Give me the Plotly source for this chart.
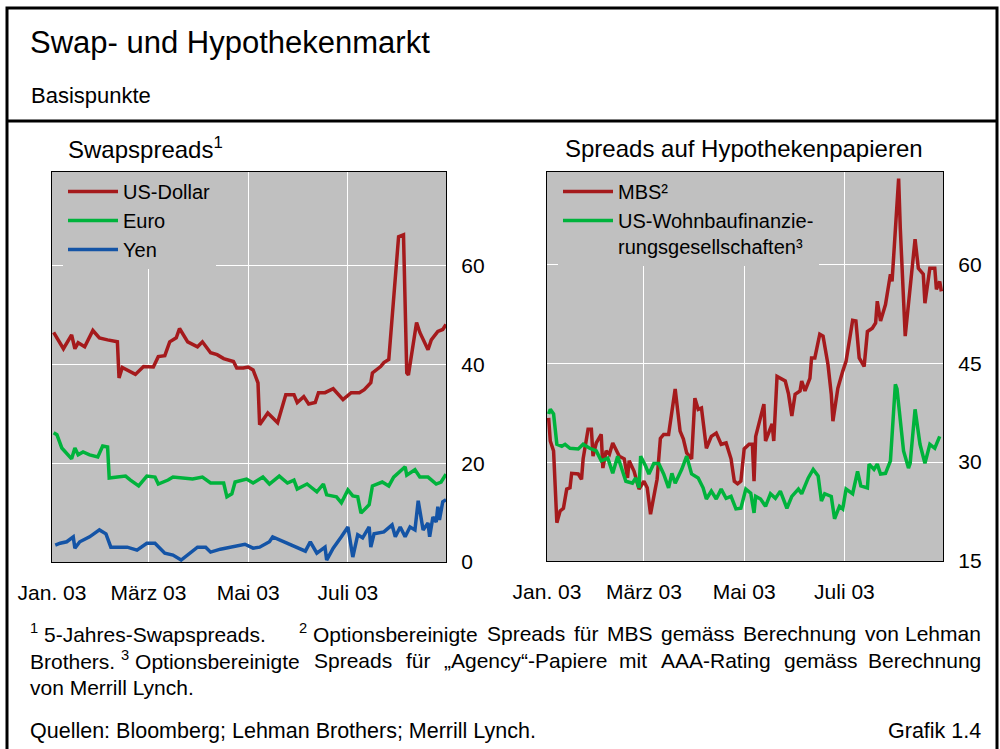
import plotly.graph_objects as go

# ---------------- data ----------------
usd_dates = ["2003-01-02","2003-01-08","2003-01-13","2003-01-15","2003-01-17","2003-01-21","2003-01-26","2003-01-30",
             "2003-02-04","2003-02-10","2003-02-11","2003-02-13","2003-02-21","2003-02-26","2003-03-04","2003-03-07",
             "2003-03-11","2003-03-14","2003-03-18","2003-03-20","2003-03-25","2003-03-31","2003-04-03","2003-04-08",
             "2003-04-12","2003-04-16","2003-04-22","2003-04-24","2003-04-28","2003-05-01","2003-05-04","2003-05-07",
             "2003-05-08","2003-05-13","2003-05-19","2003-05-24","2003-05-29","2003-05-31","2003-06-04","2003-06-07",
             "2003-06-11","2003-06-13","2003-06-17","2003-06-22","2003-06-28","2003-07-03","2003-07-08","2003-07-11",
             "2003-07-15","2003-07-16","2003-07-21","2003-07-23","2003-07-26","2003-07-28","2003-07-30","2003-08-01",
             "2003-08-04","2003-08-05","2003-08-06","2003-08-07","2003-08-10","2003-08-12","2003-08-14","2003-08-19",
             "2003-08-21","2003-08-25","2003-08-28","2003-08-30"]
usd_values = [46.5,43.2,46.0,43.2,44.4,43.6,46.9,45.4,
              45.0,44.6,37.3,39.4,38.0,39.6,39.5,41.6,
              41.8,44.6,45.4,47.3,44.6,43.6,44.6,42.4,
              42.0,41.2,40.6,39.3,39.3,39.5,38.9,36.3,
              27.8,30.2,28.2,33.9,33.9,32.3,33.5,32.0,
              32.3,34.3,34.3,35.1,32.9,34.3,34.3,34.9,
              36.3,38.3,39.6,40.4,41.0,49.7,58.6,65.9,
              66.3,49.7,38.3,37.9,44.0,48.5,46.5,43.0,
              45.0,46.7,47.1,48.1]

eur_dates = ["2003-01-02","2003-01-04","2003-01-07","2003-01-13","2003-01-15","2003-01-17","2003-01-20","2003-01-24",
             "2003-01-29","2003-02-01","2003-02-04","2003-02-05","2003-02-10","2003-02-15","2003-02-18","2003-02-23",
             "2003-02-28","2003-03-05","2003-03-07","2003-03-13","2003-03-16","2003-03-22","2003-03-28","2003-04-03",
             "2003-04-08","2003-04-16","2003-04-18","2003-04-21","2003-04-23","2003-04-30","2003-05-04","2003-05-10",
             "2003-05-14","2003-05-20","2003-05-25","2003-05-29","2003-05-31","2003-06-06","2003-06-12","2003-06-16",
             "2003-06-18","2003-06-24","2003-06-27","2003-07-01","2003-07-04","2003-07-07","2003-07-09","2003-07-14",
             "2003-07-16","2003-07-22","2003-07-26","2003-07-29","2003-08-05","2003-08-06","2003-08-11","2003-08-14",
             "2003-08-19","2003-08-24","2003-08-27","2003-08-30"]
eur_values = [26.2,25.8,23.1,20.9,23.1,21.7,22.3,21.7,
              21.3,23.5,23.3,17.0,17.2,17.4,16.6,15.4,
              17.4,17.2,15.8,16.6,17.2,17.0,16.8,17.2,
              16.0,16.0,13.2,13.8,16.2,16.8,16.0,17.2,
              15.8,17.4,16.0,16.6,14.8,15.8,14.2,15.8,
              13.6,13.2,12.0,14.6,13.4,13.2,9.9,11.6,
              15.4,16.2,15.4,17.2,19.3,17.6,18.7,17.2,
              17.2,15.8,16.2,17.8]

jpy_dates = ["2003-01-03","2003-01-06","2003-01-10","2003-01-14","2003-01-15","2003-01-18","2003-01-24","2003-01-30",
             "2003-02-03","2003-02-06","2003-02-16","2003-02-22","2003-02-28","2003-03-05","2003-03-11","2003-03-16",
             "2003-03-21","2003-03-26","2003-03-31","2003-04-05","2003-04-08","2003-04-14","2003-04-21","2003-04-29",
             "2003-05-04","2003-05-08","2003-05-14","2003-05-16","2003-06-05","2003-06-08","2003-06-12","2003-06-17",
             "2003-06-18","2003-06-22","2003-06-27","2003-07-01","2003-07-04","2003-07-07","2003-07-10","2003-07-14",
             "2003-07-15","2003-07-17","2003-07-23","2003-07-28","2003-07-30","2003-08-02","2003-08-05","2003-08-08",
             "2003-08-11","2003-08-13","2003-08-16","2003-08-19","2003-08-20","2003-08-22","2003-08-24","2003-08-25",
             "2003-08-26","2003-08-28","2003-08-30"]
jpy_values = [3.4,3.8,4.1,5.1,2.8,4.1,5.1,6.5,
              5.7,3.0,3.0,2.4,3.8,3.8,1.8,1.4,
              0.4,1.6,3.0,3.0,2.0,2.6,3.0,3.6,
              2.8,3.0,4.1,5.1,2.2,4.1,1.8,3.0,
              0.4,2.8,5.1,7.1,1.0,5.5,4.9,7.1,
              3.0,5.7,6.1,7.5,5.1,7.1,5.1,7.1,
              6.5,12.4,6.5,7.9,5.1,9.1,8.1,11.2,
              8.5,12.2,12.6]

mbs_dates = ["2003-01-02","2003-01-03","2003-01-05","2003-01-07","2003-01-09","2003-01-11","2003-01-13","2003-01-15",
             "2003-01-16","2003-01-20","2003-01-22","2003-01-23","2003-01-26","2003-01-28","2003-01-29","2003-01-31",
             "2003-02-03","2003-02-04","2003-02-06","2003-02-08","2003-02-10","2003-02-14","2003-02-17","2003-02-19",
             "2003-02-20","2003-02-23","2003-02-26","2003-03-01","2003-03-03","2003-03-05","2003-03-08","2003-03-09",
             "2003-03-11","2003-03-13","2003-03-16","2003-03-20","2003-03-23","2003-03-25","2003-03-27","2003-03-30",
             "2003-04-01","2003-04-03","2003-04-05","2003-04-08","2003-04-11","2003-04-14","2003-04-17","2003-04-20",
             "2003-04-23","2003-04-25","2003-04-27","2003-04-29","2003-05-01","2003-05-04","2003-05-06","2003-05-07",
             "2003-05-08","2003-05-10","2003-05-13","2003-05-14","2003-05-18","2003-05-19","2003-05-21","2003-05-26",
             "2003-05-28","2003-05-30","2003-06-01","2003-06-04","2003-06-05","2003-06-07","2003-06-10","2003-06-11",
             "2003-06-13","2003-06-16","2003-06-18","2003-06-21","2003-06-23","2003-06-24","2003-06-27","2003-06-30",
             "2003-07-02","2003-07-06","2003-07-08","2003-07-10","2003-07-13","2003-07-15","2003-07-18","2003-07-20",
             "2003-07-21","2003-07-23","2003-07-26","2003-07-29","2003-07-30","2003-08-03","2003-08-04","2003-08-07",
             "2003-08-13","2003-08-15","2003-08-18","2003-08-19","2003-08-22","2003-08-25","2003-08-26","2003-08-28",
             "2003-08-29"]
mbs_values = [36.7,33.2,31.7,20.8,22.6,23.0,25.9,26.1,
              28.3,28.2,27.4,30.5,35.0,35.0,30.9,32.9,
              34.2,29.1,31.7,31.2,32.9,30.9,30.5,27.6,
              30.2,28.6,25.9,27.1,26.1,22.1,26.1,27.4,
              33.6,34.2,34.2,41.1,34.7,33.5,31.4,30.5,
              39.7,38.0,38.2,32.1,33.9,34.4,32.7,32.9,
              30.5,27.1,26.7,27.1,32.0,32.7,32.7,27.1,
              33.9,35.8,38.8,33.2,35.8,33.2,43.0,42.3,
              40.3,37.0,40.3,40.8,42.3,40.8,42.7,45.8,
              45.8,49.4,49.1,44.8,40.3,36.2,41.2,43.8,
              45.3,51.5,51.4,45.8,44.5,49.8,50.3,51.1,
              54.4,51.4,53.9,58.5,57.4,73.0,65.5,49.1,
              63.8,59.4,58.5,54.1,59.4,59.4,56.2,57.4,
              55.9]

agency_dates = ["2003-01-02","2003-01-03","2003-01-05","2003-01-07","2003-01-10","2003-01-12","2003-01-15","2003-01-20",
                "2003-01-23","2003-01-27","2003-01-31","2003-02-03","2003-02-07","2003-02-10","2003-02-13","2003-02-18",
                "2003-02-22","2003-02-24","2003-02-26","2003-02-27","2003-03-02","2003-03-04","2003-03-07","2003-03-10",
                "2003-03-13","2003-03-16","2003-03-18","2003-03-20","2003-03-24","2003-03-27","2003-03-30","2003-04-03",
                "2003-04-06","2003-04-08","2003-04-11","2003-04-14","2003-04-17","2003-04-20","2003-04-23","2003-04-26",
                "2003-04-29","2003-05-02","2003-05-05","2003-05-07","2003-05-08","2003-05-11","2003-05-14","2003-05-17",
                "2003-05-20","2003-05-23","2003-05-27","2003-05-30","2003-06-03","2003-06-05","2003-06-09","2003-06-12",
                "2003-06-15","2003-06-17","2003-06-19","2003-06-23","2003-06-25","2003-06-28","2003-06-30","2003-07-02",
                "2003-07-06","2003-07-09","2003-07-11","2003-07-15","2003-07-16","2003-07-19","2003-07-21","2003-07-23",
                "2003-07-26","2003-07-29","2003-08-01","2003-08-02","2003-08-06","2003-08-09","2003-08-10","2003-08-13",
                "2003-08-16","2003-08-19","2003-08-22","2003-08-25","2003-08-28"]
agency_values = [37.3,38.0,37.3,32.7,32.4,32.7,32.1,32.0,
                 32.7,32.1,31.7,30.2,30.6,28.3,30.9,27.1,
                 26.8,27.6,26.1,30.9,29.4,28.2,29.8,29.8,
                 28.2,26.1,28.3,26.8,28.9,30.9,28.2,27.6,
                 26.1,24.4,25.6,24.4,25.9,24.5,24.8,22.9,
                 23.0,25.9,25.3,22.3,24.8,24.4,23.3,25.2,
                 24.5,25.6,23.0,24.8,25.9,25.2,27.6,28.9,
                 27.9,24.1,25.2,24.8,21.4,23.3,22.9,25.9,
                 25.2,28.6,26.4,26.1,29.7,28.9,29.7,28.2,
                 28.3,30.2,41.8,41.1,31.7,29.1,29.8,38.0,
                 32.7,29.8,32.7,32.1,33.9]

month_ticks = ["2003-01-01", "2003-03-01", "2003-05-01", "2003-07-01"]
month_labels = ["Jan. 03", "März 03", "Mai 03", "Juli 03"]
left_yticks = [0, 20, 40, 60]
right_yticks = [15, 30, 45, 60]

RED = "#A51A1C"
GREEN = "#00B33C"
BLUE = "#1454A6"
BG = "#C0C0C0"
FONT = "Liberation Sans"
LW = 3.5

W, H = 1000, 749
def px(x): return x / W
def py(y): return 1 - y / H

fig = go.Figure()
fig.add_trace(go.Scatter(x=usd_dates, y=usd_values, name="US-Dollar", mode="lines",
                         line=dict(color=RED, width=LW), xaxis="x", yaxis="y", legend="legend"))
fig.add_trace(go.Scatter(x=eur_dates, y=eur_values, name="Euro", mode="lines",
                         line=dict(color=GREEN, width=LW), xaxis="x", yaxis="y", legend="legend"))
fig.add_trace(go.Scatter(x=jpy_dates, y=jpy_values, name="Yen", mode="lines",
                         line=dict(color=BLUE, width=LW), xaxis="x", yaxis="y", legend="legend"))
fig.add_trace(go.Scatter(x=mbs_dates, y=mbs_values, name="MBS²", mode="lines",
                         line=dict(color=RED, width=LW), xaxis="x2", yaxis="y2", legend="legend2"))
fig.add_trace(go.Scatter(x=agency_dates, y=agency_values, name="US-Wohnbaufinanzie-<br>rungsgesellschaften³",
                         mode="lines", line=dict(color=GREEN, width=LW), xaxis="x2", yaxis="y2", legend="legend2"))

xcommon = dict(type="date", range=["2003-01-01", "2003-08-30"], tickvals=month_ticks, ticktext=month_labels,
               showgrid=True, gridcolor="white", gridwidth=1.3, showline=True, linecolor="black", linewidth=1.2,
               mirror=True, ticks="", tickfont=dict(family=FONT, size=21, color="black"),
               ticklabelstandoff=12, zeroline=False, automargin=False)
ycommon = dict(side="right", showgrid=True, gridcolor="white", gridwidth=1.3, showline=True, linecolor="black",
               linewidth=1.2, mirror=True, ticks="", tickfont=dict(family=FONT, size=21, color="black"),
               ticklabelstandoff=10, zeroline=False, automargin=False)

legcommon = dict(xanchor="left", yanchor="top", bgcolor=BG, borderwidth=0,
                 font=dict(family=FONT, size=20, color="black"), itemwidth=50, tracegroupgap=0,
                 valign="top", itemclick=False)

fig.update_layout(
    width=W, height=H, margin=dict(l=0, r=0, t=0, b=0, autoexpand=False),
    paper_bgcolor="white", plot_bgcolor=BG,
    font=dict(family=FONT, color="black"),
    xaxis=dict(domain=[px(52), px(446)], anchor="y", **xcommon),
    yaxis=dict(domain=[py(562), py(172)], anchor="x", range=[0, 79], tickvals=left_yticks, **ycommon),
    xaxis2=dict(domain=[px(547), px(943)], anchor="y2", **xcommon),
    yaxis2=dict(domain=[py(561), py(172)], anchor="x2", range=[15, 74], tickvals=right_yticks, **ycommon),
    legend=dict(x=px(63), y=py(172), **legcommon),
    legend2=dict(x=px(558), y=py(172), **legcommon),
    showlegend=True,
)

shapes = [
    dict(type="rect", xref="paper", yref="paper", x0=px(7), x1=px(997), y0=py(760), y1=py(8),
         line=dict(color="black", width=3), fillcolor="rgba(0,0,0,0)", layer="above"),
    dict(type="line", xref="paper", yref="paper", x0=px(7), x1=px(997), y0=py(121), y1=py(121),
         line=dict(color="black", width=3)),
]
fig.update_layout(shapes=shapes)

def ann(text, x, y, size, xanchor="left"):
    return dict(text=text, x=px(x), y=py(y), xref="paper", yref="paper", xanchor=xanchor, yanchor="middle",
                showarrow=False, font=dict(family=FONT, size=size, color="black"))

# justified footnote lines: word groups placed across the text width
note1 = [("<sup>1</sup> 5-Jahres-Swapspreads.", 28, "left"),
         ("<sup>2</sup> Optionsbereinigte", 297, "left"), ("Spreads", 485, "left"), ("für", 572, "left"),
         ("MBS", 605, "left"), ("gemäss", 659, "left"), ("Berechnung", 741, "left"), ("von", 863, "left"),
         ("Lehman", 983, "right")]
note2 = [("Brothers. <sup>3</sup> Optionsbereinigte", 28, "left"), ("Spreads", 312, "left"), ("für", 404, "left"),
         ("„Agency“-Papiere", 442, "left"), ("mit", 617, "left"), ("AAA-Rating", 659, "left"),
         ("gemäss", 782, "left"), ("Berechnung", 983, "right")]

annotations = [
    ann("Swap- und Hypothekenmarkt", 28, 42, 31),
    ann("Basispunkte", 29, 96, 22),
    ann("Swapspreads<sup>1</sup>", 66, 148, 24),
    ann("Spreads auf Hypothekenpapieren", 563, 148, 24),
    ann("von Merrill Lynch.", 28, 687, 21),
    ann("Quellen: Bloomberg; Lehman Brothers; Merrill Lynch.", 28, 731, 21.5),
    ann("Grafik 1.4", 983, 731, 21.5, "right"),
]
annotations += [ann(t, x, 633, 21, a) for t, x, a in note1]
annotations += [ann(t, x, 660, 21, a) for t, x, a in note2]
fig.update_layout(annotations=annotations)

fig.write_html("out.html", config={"displayModeBar": False},
               post_script="document.body.style.margin='0px';")
